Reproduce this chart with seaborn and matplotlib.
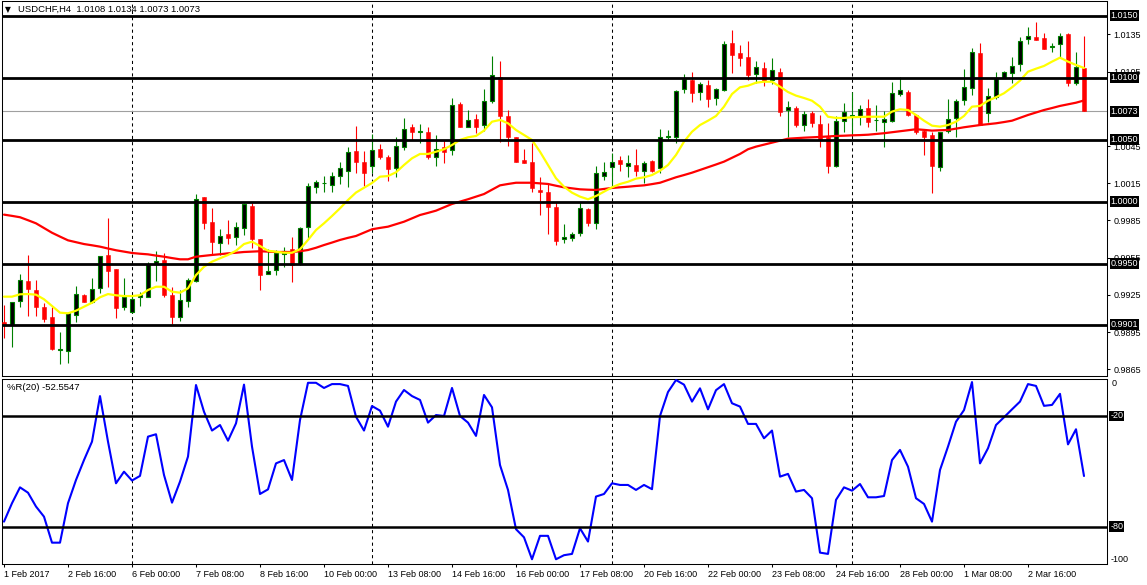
import numpy as np
import pandas as pd
import matplotlib
matplotlib.use("Agg")
import matplotlib.pyplot as plt
import matplotlib.transforms as mtransforms
import seaborn as sns

# ---------------- data ----------------
symbol = "USDCHF,H4"

opens = [
    0.99034, 0.99007, 0.99201, 0.99365, 0.99290, 0.99150, 0.99070, 0.98810, 0.98796, 0.99088,
    0.99247, 0.99190, 0.99308, 0.99572, 0.99459, 0.99155, 0.99110, 0.99233, 0.99236, 0.99510,
    0.99531, 0.99247, 0.99070, 0.99201, 0.99362, 1.00037, 0.99835, 0.99671, 0.99739, 0.99719,
    0.99792, 0.99967, 0.99698, 0.99419, 0.99451, 0.99580, 0.99618, 0.99499, 0.99795, 1.00117,
    1.00148, 1.00133, 1.00211, 1.00251, 1.00410, 1.00324, 1.00287, 1.00424, 1.00364, 1.00271,
    1.00440, 1.00601, 1.00563, 1.00563, 1.00359, 1.00440, 1.00418, 1.00789, 1.00601, 1.00665,
    1.00619, 1.00813, 1.01004, 1.00692, 1.00520, 1.00337, 1.00324, 1.00096, 1.00079, 0.99961,
    0.99698, 0.99706, 0.99747, 0.99942, 0.99827, 1.00211, 1.00283, 1.00337, 1.00291, 1.00297,
    1.00251, 1.00332, 1.00271, 1.00523, 1.00520, 1.00907, 1.00982, 1.00883, 1.00942, 1.00835,
    1.00902, 1.01278, 1.01197, 1.01170, 1.01031, 1.01076, 1.00982, 1.01044, 1.00740, 1.00754,
    1.00619, 1.00714, 1.00628, 1.00525, 1.00289, 1.00654, 1.00690, 1.00692, 1.00754, 1.00657,
    1.00646, 1.00654, 1.00867, 1.00885, 1.00700, 1.00574, 1.00539, 1.00283, 1.00571, 1.00674,
    1.00821, 1.00915, 1.01197, 1.00714, 1.00843, 1.01001, 1.01036, 1.01109, 1.01310, 1.01331,
    1.01321, 1.01250, 1.01270, 1.01353, 1.00960, 1.01080]

highs = [
    0.99169, 0.99195, 0.99419, 0.99572, 0.99370, 0.99182, 0.99155, 0.98953, 0.99115, 0.99324,
    0.99255, 0.99384, 0.99566, 0.99870, 0.99459, 0.99384, 0.99249, 0.99273, 0.99518, 0.99604,
    0.99585, 0.99311, 0.99290, 0.99384, 1.00063, 1.00042, 0.99948, 0.99779, 0.99854, 0.99840,
    0.99993, 0.99988, 0.99698, 0.99618, 0.99612, 0.99639, 0.99719, 0.99795, 1.00150, 1.00176,
    1.00208, 1.00241, 1.00324, 1.00440, 1.00611, 1.00410, 1.00545, 1.00466, 1.00378, 1.00525,
    1.00674, 1.00628, 1.00628, 1.00601, 1.00539, 1.00499, 1.00835, 1.00807, 1.00740, 1.00708,
    1.00907, 1.01176, 1.01138, 1.00740, 1.00525, 1.00424, 1.00477, 1.00203, 1.00150, 0.99996,
    0.99822, 0.99759, 1.00001, 0.99948, 1.00289, 1.00324, 1.00391, 1.00370, 1.00378, 1.00424,
    1.00332, 1.00337, 1.00585, 1.00579, 1.00902, 1.01031, 1.01047, 1.00966, 1.00982, 1.00915,
    1.01297, 1.01385, 1.01264, 1.01299, 1.01138, 1.01130, 1.01157, 1.01076, 1.00815, 1.00773,
    1.00735, 1.00735, 1.00698, 1.00633, 1.00692, 1.00794, 1.00888, 1.00778, 1.00827, 1.00778,
    1.00735, 1.00968, 1.01009, 1.00902, 1.00708, 1.00585, 1.00565, 1.00565, 1.00827, 1.00827,
    1.01068, 1.01238, 1.01283, 1.00915, 1.01049, 1.01057, 1.01170, 1.01331, 1.01407, 1.01452,
    1.01363, 1.01283, 1.01363, 1.01358, 1.01210, 1.01340]

lows = [
    0.98900, 0.98828, 0.99155, 0.99080, 0.99080, 0.99034, 0.98806, 0.98693, 0.98699, 0.99034,
    0.99195, 0.99182, 0.99263, 0.99316, 0.99061, 0.99128, 0.99107, 0.99163, 0.99230, 0.99365,
    0.99231, 0.99016, 0.99042, 0.99150, 0.99356, 0.99779, 0.99572, 0.99572, 0.99658, 0.99652,
    0.99733, 0.99626, 0.99290, 0.99419, 0.99410, 0.99477, 0.99356, 0.99491, 0.99706, 1.00069,
    1.00082, 1.00082, 1.00144, 1.00122, 1.00230, 1.00128, 1.00235, 1.00343, 1.00171, 1.00198,
    1.00418, 1.00499, 1.00477, 1.00343, 1.00289, 1.00316, 1.00378, 1.00601, 1.00601, 1.00557,
    1.00574, 1.00799, 1.00485, 1.00450, 1.00324, 1.00311, 1.00082, 0.99894, 0.99741, 0.99652,
    0.99666, 0.99687, 0.99725, 0.99805, 0.99779, 1.00176, 1.00109, 1.00251, 1.00203, 1.00208,
    1.00154, 1.00243, 1.00235, 1.00499, 1.00477, 1.00875, 1.00807, 1.00821, 1.00767, 1.00778,
    1.00895, 1.01036, 1.01095, 1.00982, 1.00960, 1.00934, 1.00950, 1.00692, 1.00525, 1.00601,
    1.00574, 1.00606, 1.00445, 1.00230, 1.00283, 1.00565, 1.00539, 1.00619, 1.00606, 1.00574,
    1.00445, 1.00646, 1.00853, 1.00692, 1.00547, 1.00378, 1.00074, 1.00251, 1.00557, 1.00520,
    1.00781, 1.00861, 1.00619, 1.00646, 1.00827, 1.00996, 1.00960, 1.01057, 1.01272, 1.01305,
    1.01234, 1.01210, 1.01165, 1.00934, 1.00942, 1.00730]

closes = [
    0.99007, 0.99190, 0.99370, 0.99295, 0.99155, 0.99058, 0.98814, 0.98815, 0.99102, 0.99255,
    0.99195, 0.99295, 0.99561, 0.99445, 0.99147, 0.99236, 0.99215, 0.99247, 0.99497, 0.99521,
    0.99249, 0.99074, 0.99209, 0.99368, 1.00021, 0.99827, 0.99674, 0.99727, 0.99706, 0.99795,
    0.99983, 0.99703, 0.99408, 0.99443, 0.99585, 0.99606, 0.99489, 0.99787, 1.00128, 1.00158,
    1.00152, 1.00208, 1.00271, 1.00402, 1.00324, 1.00235, 1.00416, 1.00364, 1.00267, 1.00450,
    1.00585, 1.00565, 1.00567, 1.00359, 1.00424, 1.00404, 1.00778, 1.00606, 1.00660, 1.00606,
    1.00815, 1.01020, 1.00692, 1.00525, 1.00324, 1.00316, 1.00109, 1.00082, 0.99961, 0.99687,
    0.99714, 0.99741, 0.99948, 0.99827, 1.00230, 1.00241, 1.00324, 1.00305, 1.00311, 1.00251,
    1.00316, 1.00251, 1.00525, 1.00527, 1.00896, 1.00988, 1.00875, 1.00950, 1.00827, 1.00907,
    1.01272, 1.01184, 1.01157, 1.01022, 1.01085, 1.00977, 1.01063, 1.00727, 1.00767, 1.00619,
    1.00706, 1.00633, 1.00504, 1.00291, 1.00649, 1.00727, 1.00697, 1.00746, 1.00646, 1.00663,
    1.00670, 1.00875, 1.00902, 1.00700, 1.00565, 1.00525, 1.00291, 1.00561, 1.00665, 1.00813,
    1.00923, 1.01205, 1.00619, 1.00856, 1.00996, 1.01044, 1.01095, 1.01297, 1.01337, 1.01305,
    1.01234, 1.01256, 1.01337, 1.00956, 1.01085, 1.00730]

ma_fast = [
    0.99236, 0.99236, 0.99255, 0.99257, 0.99252, 0.99215, 0.99161, 0.99107, 0.99102, 0.99123,
    0.99155, 0.99187, 0.99231, 0.99257, 0.99247, 0.99241, 0.99241, 0.99247, 0.99290, 0.99316,
    0.99316, 0.99276, 0.99268, 0.99303, 0.99410, 0.99477, 0.99518, 0.99545, 0.99572, 0.99606,
    0.99660, 0.99679, 0.99644, 0.99606, 0.99598, 0.99590, 0.99590, 0.99618, 0.99693, 0.99773,
    0.99827, 0.99886, 0.99948, 1.00015, 1.00075, 1.00114, 1.00152, 1.00203, 1.00208, 1.00238,
    1.00297, 1.00351, 1.00386, 1.00386, 1.00404, 1.00424, 1.00458, 1.00499, 1.00520, 1.00531,
    1.00574, 1.00646, 1.00660, 1.00633, 1.00579, 1.00539, 1.00499, 1.00404, 1.00297, 1.00190,
    1.00122, 1.00074, 1.00042, 1.00021, 1.00047, 1.00082, 1.00117, 1.00144, 1.00162, 1.00187,
    1.00198, 1.00216, 1.00251, 1.00297, 1.00378, 1.00485, 1.00565, 1.00619, 1.00654, 1.00692,
    1.00767, 1.00869, 1.00923, 1.00936, 1.00960, 1.00968, 1.00968, 1.00928, 1.00885, 1.00856,
    1.00837, 1.00815, 1.00767, 1.00686, 1.00676, 1.00676, 1.00682, 1.00684, 1.00686, 1.00686,
    1.00686, 1.00727, 1.00746, 1.00740, 1.00700, 1.00654, 1.00614, 1.00606, 1.00619, 1.00646,
    1.00692, 1.00767, 1.00773, 1.00815, 1.00843, 1.00875, 1.00923, 1.00977, 1.01049, 1.01073,
    1.01095, 1.01130, 1.01162, 1.01130, 1.01103, 1.01079]

ma_slow = [
    0.99897, 0.99887, 0.99876, 0.99852, 0.99827, 0.99789, 0.99751, 0.99720, 0.99690, 0.99675,
    0.99660, 0.99650, 0.99639, 0.99624, 0.99610, 0.99599, 0.99588, 0.99582, 0.99577, 0.99567,
    0.99558, 0.99547, 0.99537, 0.99537, 0.99558, 0.99565, 0.99572, 0.99578, 0.99585, 0.99590,
    0.99596, 0.99599, 0.99602, 0.99599, 0.99596, 0.99596, 0.99596, 0.99602, 0.99612, 0.99630,
    0.99652, 0.99672, 0.99693, 0.99710, 0.99725, 0.99752, 0.99779, 0.99790, 0.99800, 0.99820,
    0.99840, 0.99867, 0.99894, 0.99911, 0.99929, 0.99956, 0.99983, 1.00002, 1.00021, 1.00042,
    1.00063, 1.00098, 1.00133, 1.00144, 1.00154, 1.00154, 1.00154, 1.00149, 1.00144, 1.00130,
    1.00117, 1.00109, 1.00101, 1.00098, 1.00096, 1.00104, 1.00112, 1.00117, 1.00122, 1.00128,
    1.00133, 1.00143, 1.00154, 1.00176, 1.00198, 1.00216, 1.00235, 1.00257, 1.00279, 1.00301,
    1.00324, 1.00355, 1.00386, 1.00424, 1.00445, 1.00461, 1.00477, 1.00493, 1.00509, 1.00513,
    1.00517, 1.00520, 1.00523, 1.00527, 1.00531, 1.00533, 1.00536, 1.00538, 1.00541, 1.00547,
    1.00553, 1.00561, 1.00569, 1.00577, 1.00585, 1.00580, 1.00574, 1.00577, 1.00579, 1.00590,
    1.00601, 1.00610, 1.00619, 1.00626, 1.00633, 1.00643, 1.00654, 1.00677, 1.00700, 1.00720,
    1.00740, 1.00756, 1.00773, 1.00786, 1.00799, 1.00817]

wpr = [
    -77.3, -67.3, -58.7, -61.6, -69.1, -74.6, -88.7, -88.7, -67.3, -54.7,
    -43.9, -33.9, -9.2, -33.9, -56.5, -50.2, -55.0, -52.5, -31.2, -29.9,
    -52.0, -67.0, -55.6, -42.0, -3.2, -17.7, -27.9, -24.9, -33.4, -24.0,
    -3.0, -36.6, -62.3, -59.8, -45.7, -43.9, -54.7, -22.2, -2.0, -2.0,
    -4.8, -2.7, -2.7, -3.7, -20.4, -27.9, -14.6, -17.1, -25.8, -12.2,
    -5.9, -9.2, -11.3, -23.6, -19.5, -20.0, -4.8, -20.0, -23.6, -30.8,
    -8.6, -15.3, -46.6, -60.1, -81.4, -85.8, -97.7, -85.0, -85.0, -97.7,
    -95.5, -94.8, -80.9, -88.1, -63.7, -62.3, -56.5, -57.4, -57.4, -60.1,
    -57.4, -59.7, -20.0, -7.0, -0.5, -3.0, -12.2, -5.0, -16.4, -6.0,
    -2.7, -13.1, -14.9, -24.3, -24.3, -32.1, -27.9, -52.9, -51.4, -61.0,
    -60.1, -64.6, -94.1, -94.8, -65.5, -58.7, -60.5, -56.9, -64.1, -64.1,
    -63.4, -43.9, -38.4, -47.5, -64.6, -67.7, -77.3, -49.3, -36.6, -23.1,
    -16.8, -1.6, -45.7, -37.5, -24.9, -20.7, -16.4, -12.2, -2.7, -3.7,
    -14.5, -14.0, -8.0, -35.4, -27.2, -52.5547]

level_lines = [1.0150, 1.0100, 1.0050, 1.0000, 0.9950, 0.9901]
bid_price = 1.0073
price_ticks = [1.0135, 1.0105, 1.0045, 1.0015, 0.9985, 0.9955, 0.9925, 0.9895, 0.9865]
wpr_levels = [-20, -80]
time_labels = ["1 Feb 2017", "2 Feb 16:00", "6 Feb 00:00", "7 Feb 08:00", "8 Feb 16:00",
               "10 Feb 00:00", "13 Feb 08:00", "14 Feb 16:00", "16 Feb 00:00", "17 Feb 08:00",
               "20 Feb 16:00", "22 Feb 00:00", "23 Feb 08:00", "24 Feb 16:00", "28 Feb 00:00",
               "1 Mar 08:00", "2 Mar 16:00"]
label_every = 8
week_starts = [16, 46, 76, 106]

n = len(opens)
for arr in (highs, lows, closes, ma_fast, ma_slow, wpr):
    assert len(arr) == n, len(arr)

df = pd.DataFrame({"bar": np.arange(n), "open": opens, "high": highs, "low": lows,
                   "close": closes, "ma_fast": ma_fast, "ma_slow": ma_slow, "wpr": wpr})

# ---------------- style ----------------
sns.set_style("white")
plt.rcParams["font.family"] = ["Liberation Sans", "DejaVu Sans"]
plt.rcParams["font.size"] = 6.5
plt.rcParams["axes.linewidth"] = 0.75

GREEN = "#008000"
RED = "#ff0000"
YELLOW = "#ffff00"
BLUE = "#0000ff"

W, H = 1147, 585
fig = plt.figure(figsize=(W / 100, H / 100), dpi=100)
fig.patch.set_facecolor("white")


def rect(x0, y0, x1, y1):
    return [x0 / W, 1 - y1 / H, (x1 - x0) / W, (y1 - y0) / H]


ax = fig.add_axes(rect(2, 1, 1107, 376))
axw = fig.add_axes(rect(2, 378.5, 1107, 563.5), sharex=ax)

xlim = (-0.25, 137.875)

# ---------------- price panel ----------------
for b in week_starts:
    ax.axvline(b, color="black", lw=0.75, ls=(0, (3, 3)), zorder=1)
    axw.axvline(b, color="black", lw=0.75, ls=(0, (3, 3)), zorder=1)

ax.axhline(bid_price, color="#a0a0a0", lw=0.8, zorder=1.5)

bull = (df["close"] >= df["open"]).values
wick_colors = np.where(bull, GREEN, RED)
ax.vlines(df["bar"], df["low"], df["high"], colors=wick_colors, lw=0.8, zorder=2)

body_bottom = np.minimum(df["open"], df["close"])
body_height = np.maximum((df["close"] - df["open"]).abs(), 0.000004)
ax.bar(df["bar"][bull], body_height[bull], bottom=body_bottom[bull], width=0.55,
       color="black", edgecolor=GREEN, linewidth=0.8, zorder=3)
ax.bar(df["bar"][~bull], body_height[~bull], bottom=body_bottom[~bull], width=0.62,
       color=RED, edgecolor=RED, linewidth=0.4, zorder=3)

sns.lineplot(data=df, x="bar", y="ma_slow", ax=ax, color=RED, linewidth=1.6,
             zorder=4, estimator=None)
sns.lineplot(data=df, x="bar", y="ma_fast", ax=ax, color=YELLOW, linewidth=1.6,
             zorder=4, estimator=None)

for lvl in level_lines:
    ax.axhline(lvl, color="black", lw=2.0, zorder=5)

ax.set_xlim(*xlim)
ax.set_ylim(0.985967, 1.016185)
ax.set_xlabel("")
ax.set_ylabel("")
ax.yaxis.tick_right()
ax.set_yticks(price_ticks)
ax.set_yticklabels([f"{v:.4f}" for v in price_ticks])
ax.tick_params(axis="y", length=2.5, width=0.75, pad=2.0, labelsize=6.5,
               colors="black", right=True, left=False)
ax.tick_params(axis="x", bottom=False, labelbottom=False)
for s in ax.spines.values():
    s.set_color("black")
    s.set_linewidth(0.75)

trans = mtransforms.blended_transform_factory(ax.transAxes, ax.transData)
for lvl in level_lines + [bid_price]:
    ax.text(1.0 + 3.6 / 1105, lvl, f"{lvl:.4f}", transform=trans, ha="left", va="center",
            color="white", fontsize=6.5, zorder=10, clip_on=False,
            bbox=dict(boxstyle="square,pad=0.12", fc="black", ec="none"))

# ---------------- %R panel ----------------
sns.lineplot(data=df, x="bar", y="wpr", ax=axw, color=BLUE, linewidth=1.5,
             zorder=4, estimator=None)
for lvl in wpr_levels:
    axw.axhline(lvl, color="black", lw=1.8, zorder=5)

axw.set_xlim(*xlim)
axw.set_ylim(-100, 0.33)
axw.set_xlabel("")
axw.set_ylabel("")
axw.set_yticks([])
for s in axw.spines.values():
    s.set_color("black")
    s.set_linewidth(0.75)

tick_pos = [i * label_every for i in range(len(time_labels))]
axw.set_xticks(tick_pos)
axw.set_xticklabels(time_labels)
axw.tick_params(axis="x", length=2.5, width=0.75, pad=2.2, labelsize=6.5,
                colors="black", bottom=True)
for lbl in axw.get_xticklabels():
    lbl.set_horizontalalignment("left")

transw = mtransforms.blended_transform_factory(axw.transAxes, axw.transData)
axw.text(1.0 + 4.5 / 1105, 0, "0", transform=transw, ha="left", va="top",
         fontsize=6.5, color="black", clip_on=False)
axw.text(1.0 + 3.5 / 1105, -100, "-100", transform=transw, ha="left", va="bottom",
         fontsize=6.5, color="black", clip_on=False)
for lvl in wpr_levels:
    axw.text(1.0 + 3.2 / 1105, lvl, f"{lvl}", transform=transw, ha="left", va="center",
             color="white", fontsize=6.5, zorder=10, clip_on=False,
             bbox=dict(boxstyle="square,pad=0.08", fc="black", ec="none"))

# ---------------- header texts ----------------
last = df.iloc[-1]
fig.text(4.5 / W, 1 - 9.5 / H, "\u25bc", family="DejaVu Sans", fontsize=5.5,
         va="center", ha="left", color="black")
fig.text(18 / W, 1 - 9.5 / H,
         f"{symbol}  {last['open']:.4f} {last['high']:.4f} {last['low']:.4f} {last['close']:.4f}",
         va="center", ha="left", fontsize=6.8, color="black")
fig.text(7 / W, 1 - 388 / H, f"%R(20) {wpr[-1]:.4f}", va="center", ha="left",
         fontsize=6.8, color="black")

fig.savefig("out.png", dpi=100, facecolor="white")
